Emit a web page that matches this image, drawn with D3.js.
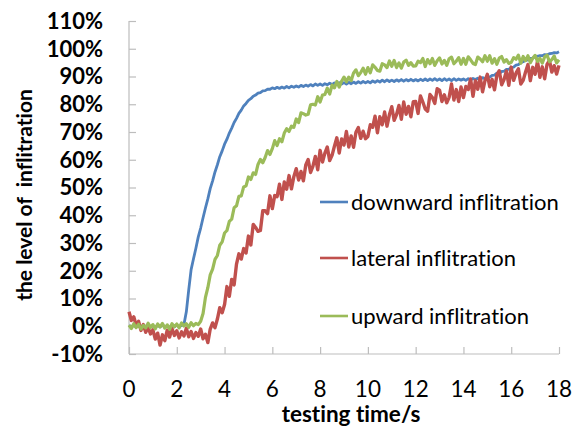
<!DOCTYPE html>
<html lang="en">
	<head>
		<meta charset="UTF-8">
		<title>Infiltration</title>
		<script src="https://cdnjs.cloudflare.com/ajax/libs/d3/7.8.5/d3.min.js"></script>
		<style>
			body { margin: 0; background: #fff; }
			text { font-family: Lato, "Open Sans", sans-serif; fill: #000; font-variant-ligatures: none; }
		</style>
		<script>
// sampling grid of the recorder, 0.1 s from 0 to 18 s
var timeStep = 0.1;
var xTicks = [0, 2, 4, 6, 8, 10, 12, 14, 16, 18];
var yTicks = [-10, 0, 10, 20, 30, 40, 50, 60, 70, 80, 90, 100, 110];
var seriesNames = ["downward inflitration", "lateral inflitration", "upward inflitration"];

// level of infiltration in %, one value per 0.1 s
var downward = [
	0.3, -0.2, 0.4, -0.3, 0.2, -0.4, 0.3, -0.1, 0.4, -0.3,
	0.2, -0.4, 0.3, -0.2, 0.5, -0.3, 0.1, -0.4, 0.3, -0.2,
	0.4, -0.1, 0.3, 0.6, 5.2, 13.1, 20.4, 24.3, 28.1, 32.2,
	35.4, 39.1, 42.6, 45.9, 49.6, 52.4, 55.6, 58.2, 61.1, 63.2,
	65.6, 67.4, 69.6, 71.4, 73.4, 74.9, 76.7, 77.9, 79.4, 80.3,
	81.4, 82.0, 82.9, 83.3, 84.0, 84.2, 84.8, 84.9, 85.4, 85.4,
	85.9, 85.6, 86.1, 85.7, 86.2, 85.8, 86.4, 85.9, 86.5, 86.1,
	86.6, 86.2, 86.8, 86.4, 86.9, 86.5, 87.1, 86.6, 87.3, 86.8,
	87.3, 86.8, 87.4, 87.0, 87.6, 87.1, 87.7, 87.2, 87.8, 87.3,
	87.8, 87.3, 87.9, 87.4, 88.0, 87.5, 88.1, 87.6, 88.2, 87.7,
	88.2, 87.7, 88.4, 87.9, 88.5, 88.0, 88.7, 88.1, 88.8, 88.2,
	88.7, 88.2, 88.8, 88.3, 88.9, 88.3, 88.9, 88.4, 89.0, 88.4,
	88.9, 88.4, 89.0, 88.5, 89.1, 88.5, 89.1, 88.6, 89.2, 88.6,
	89.1, 88.5, 89.2, 88.6, 89.1, 88.5, 89.2, 88.6, 89.1, 88.7,
	89.1, 88.6, 89.2, 88.7, 89.3, 88.9, 89.4, 89.0, 89.6, 89.2,
	89.9, 89.8, 90.4, 90.5, 91.2, 91.0, 91.8, 91.9, 92.6, 92.6,
	93.3, 93.4, 94.1, 94.3, 95.0, 95.3, 95.8, 96.0, 96.5, 96.6,
	97.2, 97.3, 97.5, 97.5, 97.9, 97.8, 98.2, 98.3, 98.6, 98.5,
	98.9
];

var lateral = [
	5.2, 2.1, 3.4, 0.3, 1.8, -1.5, 0.6, -2.2, -0.4, -2.8,
	-1.3, -4.6, -2.5, -6.8, -3.1, -5.2, -1.4, -3.9, -0.8, -3.3,
	-1.6, -4.2, -2.0, -3.5, -0.7, -3.8, -1.9, -4.4, -2.3, -3.6,
	-1.0, -4.5, -2.9, -5.9, -1.0, 1.2, -0.5, 2.6, 6.7, 4.9,
	7.8, 14.3, 10.8, 16.9, 14.9, 22.4, 26.1, 24.2, 28.0, 26.4,
	32.5, 29.3, 36.7, 35.6, 34.2, 34.5, 41.6, 41.6, 40.6, 47.0,
	42.4, 47.1, 46.7, 51.2, 45.7, 52.0, 49.4, 54.3, 49.5, 53.9,
	56.8, 52.7, 55.8, 52.4, 58.1, 60.1, 55.4, 57.7, 61.2, 56.4,
	63.4, 59.2, 62.4, 64.6, 59.7, 61.6, 64.9, 67.9, 62.4, 67.5,
	65.3, 70.2, 64.6, 68.6, 64.5, 69.9, 71.6, 67.7, 70.3, 67.6,
	68.4, 72.6, 71.7, 75.7, 69.7, 75.5, 72.6, 77.2, 72.1, 76.2,
	79.1, 74.2, 76.3, 79.6, 74.6, 80.8, 76.4, 79.2, 75.5, 80.9,
	81.0, 76.7, 83.0, 80.8, 78.3, 77.5, 83.5, 82.4, 80.3, 85.6,
	85.1, 81.0, 83.4, 80.5, 82.5, 87.3, 81.5, 85.3, 81.0, 86.2,
	82.4, 86.4, 85.3, 89.1, 82.9, 88.5, 85.4, 89.8, 84.5, 88.4,
	90.8, 86.3, 89.0, 85.2, 90.5, 92.1, 87.0, 88.9, 92.0, 86.8,
	93.4, 88.6, 91.2, 92.8, 87.3, 88.6, 91.6, 94.3, 88.5, 93.3,
	90.8, 95.5, 89.7, 93.5, 89.2, 94.4, 95.8, 91.6, 93.9, 90.9,
	94.0
];

var upward = [
	0.4, -0.8, 0.9, -0.5, 0.7, -1.0, 0.3, -0.6, 1.1, -0.4,
	0.6, -0.9, 0.8, -0.3, 1.0, -0.7, 0.5, -1.1, 0.9, -0.2,
	0.8, -0.6, 1.2, 0.1, 0.9, -0.4, 1.3, 0.2, 1.0, 0.6,
	1.8, 4.6, 10.4, 13.9, 18.5, 20.6, 24.1, 25.5, 29.2, 30.4,
	33.6, 34.5, 37.8, 38.6, 42.7, 43.4, 46.8, 47.0, 50.2, 50.6,
	53.8, 52.9, 55.3, 54.7, 58.3, 60.1, 58.9, 60.8, 63.3, 61.9,
	64.0, 66.9, 65.1, 67.6, 66.5, 69.6, 71.2, 70.2, 72.1, 71.7,
	74.7, 73.4, 76.9, 76.6, 76.1, 76.4, 79.8, 80.0, 79.7, 82.7,
	80.8, 83.3, 83.5, 85.8, 83.7, 86.9, 85.9, 88.2, 86.2, 88.3,
	89.8, 88.1, 89.8, 88.5, 91.3, 92.4, 90.3, 91.4, 93.0, 90.8,
	93.2, 91.3, 94.2, 93.3, 92.2, 91.9, 94.6, 94.2, 93.2, 95.6,
	93.7, 95.8, 93.2, 94.9, 93.0, 95.2, 95.9, 94.0, 95.0, 93.7,
	93.8, 95.5, 95.0, 96.5, 93.6, 96.1, 94.6, 96.5, 94.0, 95.7,
	96.7, 94.5, 95.8, 94.0, 96.4, 97.0, 94.6, 95.5, 96.8, 94.4,
	96.5, 94.4, 97.1, 96.0, 94.7, 94.3, 97.0, 96.3, 95.3, 97.5,
	95.5, 97.5, 94.8, 96.4, 94.4, 96.6, 97.2, 95.2, 96.1, 94.7,
	95.1, 96.8, 96.2, 97.7, 94.8, 97.2, 95.7, 97.5, 95.0, 96.6,
	97.6, 95.4, 96.6, 94.8, 97.1, 97.7, 95.3, 96.1, 97.4, 94.9,
	96.0
];

var colors = ["#4f81bd", "#c0504d", "#9bbb59"];
var widths = [2.8, 3.4, 3.2];

function makeChart() {
	var svg = d3.select("svg");

	var left = 129, right = 559, top = 21, bottom = 354;

	var scX = d3.scaleLinear().domain([0, 18]).range([left, right]);
	var scY = d3.scaleLinear().domain([-10, 110]).range([bottom, top]);

	// axes: light grey lines, ticks pointing into the plot
	var yAx = svg.append("g").attr("transform", `translate(${left},0)`)
		.call(d3.axisRight(scY).tickValues(yTicks).tickSize(7).tickFormat(""));
	var xAx = svg.append("g").attr("transform", `translate(0,${bottom})`)
		.call(d3.axisTop(scX).tickValues(xTicks).tickSize(7).tickFormat(""));
	svg.selectAll(".domain").attr("stroke", "#bdbdbd").attr("stroke-width", 1.2);
	svg.selectAll(".tick line").attr("stroke", "#bdbdbd").attr("stroke-width", 1.2);
	// axisRight/Top draw outer ticks, hide them
	yAx.select(".domain").attr("d", `M0,${top}V${bottom}`);
	xAx.select(".domain").attr("d", `M${left},0H${right}`);

	// tick labels
	svg.append("g").selectAll("text").data(yTicks).enter()
		.append("text")
		.attr("x", 103)
		.attr("y", d => scY(d))
		.attr("dy", "0.36em")
		.attr("text-anchor", "end")
		.attr("font-weight", "bold")
		.attr("font-size", 22)
		.text(d => d + "%");

	svg.append("g").selectAll("text").data(xTicks).enter()
		.append("text")
		.attr("x", d => scX(d))
		.attr("y", 397)
		.attr("text-anchor", "middle")
		.attr("font-size", 22.5)
		.text(d => d);

	// axis titles
	svg.append("text")
		.attr("x", 351).attr("y", 422)
		.attr("text-anchor", "middle")
		.attr("font-weight", "bold")
		.attr("font-size", 22.5)
		.text("testing time/s");

	svg.append("text")
		.attr("transform", "translate(32,195) rotate(-90)")
		.attr("text-anchor", "middle")
		.attr("font-weight", "bold")
		.attr("font-size", 21)
		.attr("xml:space", "preserve")
		.style("white-space", "pre")
		.text("the level of  inflitration");

	// data lines
	var lnMkr = d3.line()
		.x((d, i) => scX(i * timeStep))
		.y(d => scY(d));

	[downward, lateral, upward].forEach((vals, k) => {
		svg.append("path")
			.attr("fill", "none")
			.attr("stroke", colors[k])
			.attr("stroke-width", widths[k])
			.attr("stroke-linejoin", "round")
			.attr("d", lnMkr(vals));
	});

	// legend
	var legY = [202, 258, 316];
	var leg = svg.append("g").selectAll("g").data(seriesNames).enter()
		.append("g")
		.attr("transform", (d, i) => `translate(320,${legY[i]})`);
	leg.append("line")
		.attr("x1", 0).attr("x2", 28)
		.attr("stroke", (d, i) => colors[i])
		.attr("stroke-width", 2.6);
	leg.append("text")
		.attr("x", 31)
		.attr("dy", "0.35em")
		.attr("font-size", 22)
		.text(d => d);
}
		</script>
	</head>
	<body onload="makeChart()">
		<svg width="576" height="427"></svg>
	</body>
</html>
